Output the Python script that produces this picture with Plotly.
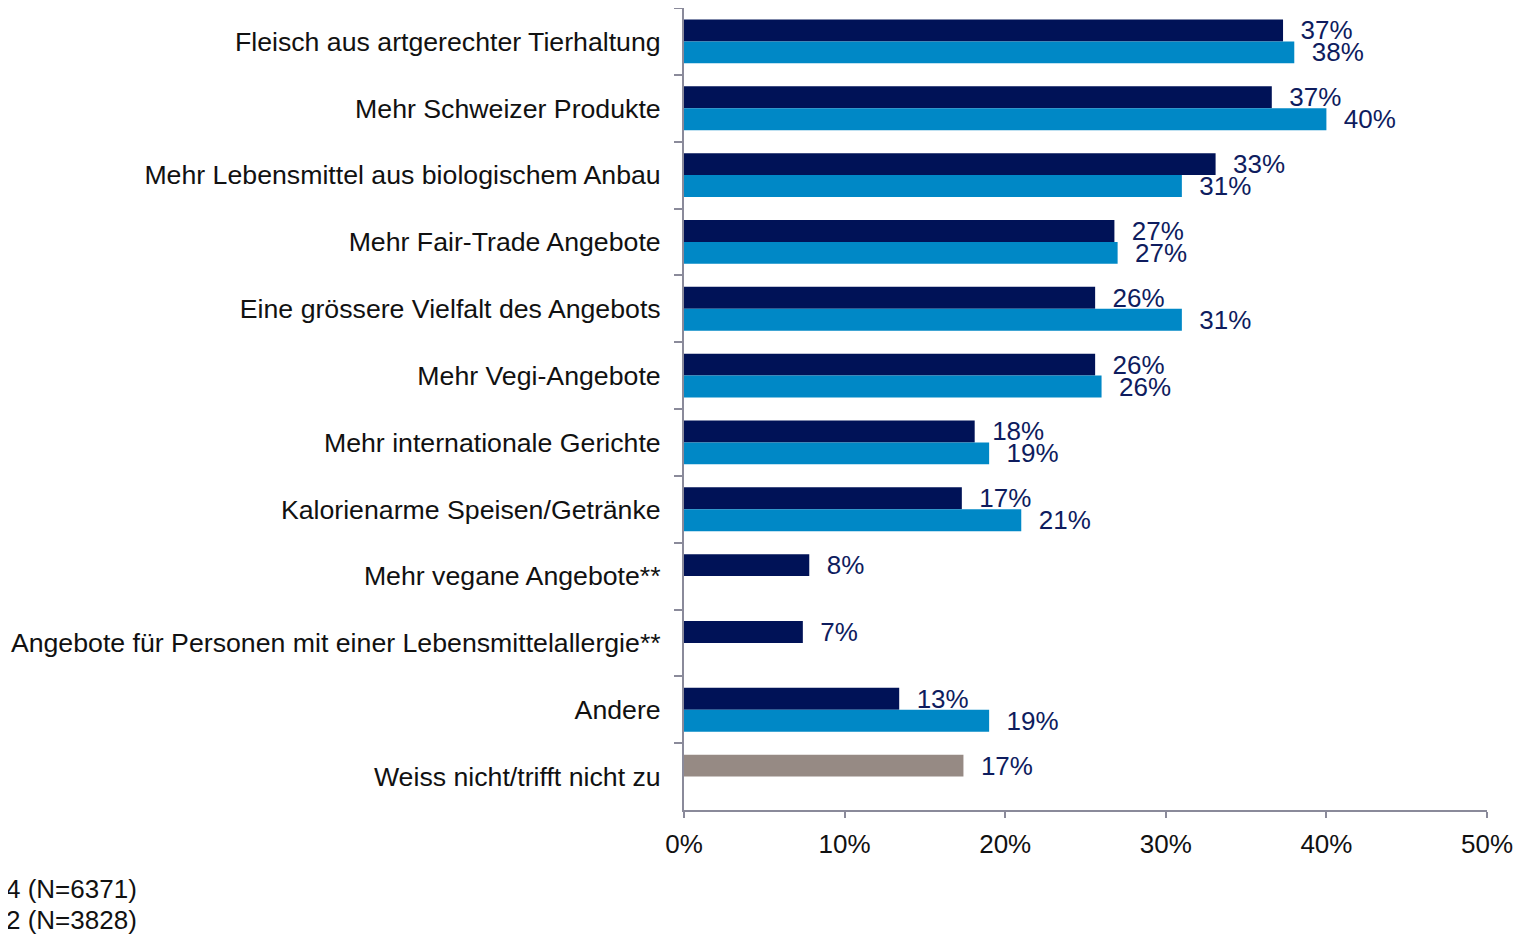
import plotly.graph_objects as go

categories = [
    "Fleisch aus artgerechter Tierhaltung",
    "Mehr Schweizer Produkte",
    "Mehr Lebensmittel aus biologischem Anbau",
    "Mehr Fair-Trade Angebote",
    "Eine grössere Vielfalt des Angebots",
    "Mehr Vegi-Angebote",
    "Mehr internationale Gerichte",
    "Kalorienarme Speisen/Getränke",
    "Mehr vegane Angebote**",
    "Angebote für Personen mit einer Lebensmittelallergie**",
    "Andere",
    "Weiss nicht/trifft nicht zu",
]
series_2014 = [37.3, 36.6, 33.1, 26.8, 25.6, 25.6, 18.1, 17.3, 7.8, 7.4, 13.4, 17.4]
series_2012 = [38.0, 40.0, 31.0, 27.0, 31.0, 26.0, 19.0, 21.0, None, None, 19.0, None]
legend_texts = ["4 (N=6371)", "2 (N=3828)"]
x_ticks = [0, 10, 20, 30, 40, 50]

DARK = "#001257"
LIGHT = "#0088C6"
GRAY = "#968A84"
LABEL = "#0E1C5E"
AXIS = "#8A8A9A"
FONT = "Liberation Sans, Arial, sans-serif"
FS = 26

dark_colors = [DARK] * (len(categories) - 1) + [GRAY]

fig = go.Figure()
fig.add_trace(go.Bar(
    y=categories, x=series_2014, orientation="h", name="2014",
    marker=dict(color=dark_colors, line=dict(width=0)),
    text=[f"{round(v)}%" for v in series_2014],
    textposition="outside", cliponaxis=False, constraintext="none",
    textfont=dict(color=LABEL, size=FS, family=FONT),
))
fig.add_trace(go.Bar(
    y=categories, x=series_2012, orientation="h", name="2012",
    marker=dict(color=LIGHT, line=dict(width=0)),
    text=[f"{round(v)}%" if v is not None else "" for v in series_2012],
    textposition="outside", cliponaxis=False, constraintext="none",
    textfont=dict(color=LABEL, size=FS, family=FONT),
))

fig.update_traces(texttemplate="\u00a0\u00a0%{text}")

fig.update_layout(
    width=1522, height=934,
    barmode="group", bargap=0.343, bargroupgap=0,
    plot_bgcolor="white", paper_bgcolor="white",
    margin=dict(l=676, r=43, t=0, b=132),
    showlegend=False,
    font=dict(family=FONT, size=FS, color="#111111"),
    xaxis=dict(
        range=[0, 50], tickvals=x_ticks, ticktext=[f"{v}%" for v in x_ticks],
        showgrid=False, zeroline=False, automargin=False,
        showline=True, linecolor=AXIS, linewidth=2,
        ticks="outside", ticklen=6, tickcolor=AXIS, tickwidth=2,
        ticklabelstandoff=4,
        tickfont=dict(size=FS, color="#111111"),
    ),
    yaxis=dict(
        categoryorder="array", categoryarray=categories, autorange="reversed",
        showgrid=False, zeroline=False, automargin=False,
        showline=True, linecolor=AXIS, linewidth=2,
        ticks="outside", ticklen=8, tickcolor=AXIS, tickwidth=2,
        tickson="boundaries",
        ticklabelstandoff=16,
        tickfont=dict(size=26.7, color="#111111"),
    ),
)

for i, t in enumerate(legend_texts):
    fig.add_annotation(
        text=t, xref="paper", yref="paper", x=-680 / 803, y=-(79 + 31 * i) / 802,
        xanchor="left", yanchor="middle", showarrow=False,
        font=dict(size=FS, color="#111111", family=FONT),
    )

fig.write_html("out.html")
